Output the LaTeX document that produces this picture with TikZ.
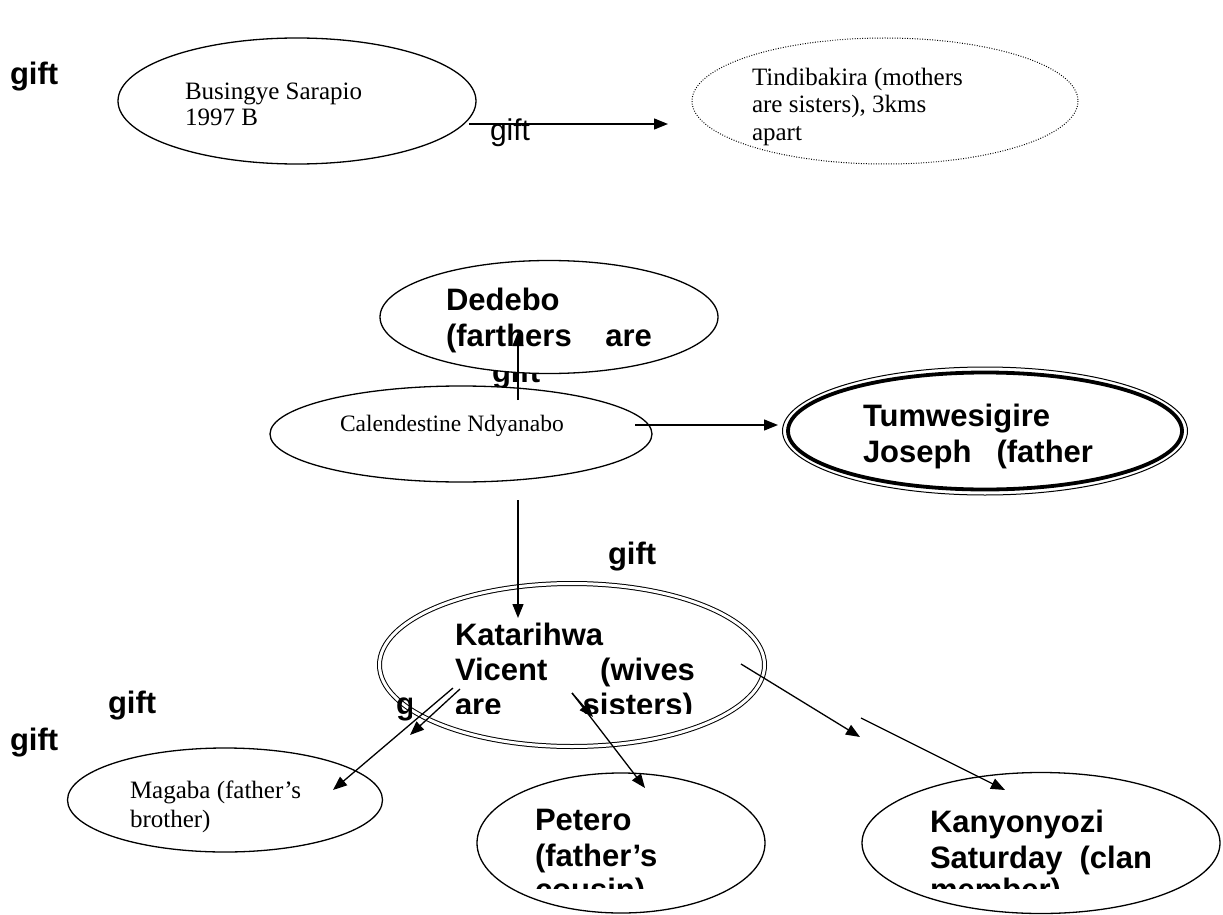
\documentclass[tikz,border=0pt]{standalone}
\usepackage{fontspec}
\setmainfont{Liberation Serif}
\newfontfamily\arialfont{Liberation Sans}
\usetikzlibrary{shapes.geometric,arrows.meta}

\begin{document}
\begin{tikzpicture}[x=1pt,y=-1pt,
  every node/.style={inner sep=0pt, outer sep=0pt},
  person/.style={ellipse, draw, fill=white, line width=1.3pt},
  serif/.style={anchor=base west, font=\fontsize{25}{29}\selectfont},
  bold/.style={anchor=base west, font=\arialfont\bfseries\fontsize{31}{36}\selectfont},
  giftbold/.style={anchor=base west, font=\arialfont\bfseries\fontsize{31}{36}\selectfont},
  giftplain/.style={anchor=base west, font=\arialfont\fontsize{30}{36}\selectfont},
  link/.style={line width=1.3pt, -{Triangle[length=14pt,width=11pt]}},
]
\useasboundingbox[fill=white] (0,0) rectangle (1223,915);

% label partly hidden behind the Dedebo ellipse
\node[giftbold] (giftD) at (492,382) {gift};

% people
\node[person, minimum width=358, minimum height=126] (bus) at (297,101) {};
\node[person, draw=none, minimum width=386, minimum height=126] (tin) at (885,101) {};
\draw[line width=1pt, dash pattern=on 0.9pt off 1.6pt] (885,101) ellipse (193 and 63);
\node[person, minimum width=338, minimum height=113] (ded) at (549,317) {};
\node[person, minimum width=382, minimum height=96] (cal) at (461,434) {};
\node[person, line width=1pt, minimum width=405, minimum height=128] (tumo) at (985,431) {};
\node[ellipse, draw, line width=3.8pt, minimum width=394, minimum height=117] (tumi) at (985,431) {};
\node[ellipse, draw, fill=white, line width=1pt, double=white, double distance=3pt,
      minimum width=385, minimum height=163] (kat) at (572,665) {};
\node[person, minimum width=315, minimum height=104] (mag) at (225,800) {};
\node[person, minimum width=288, minimum height=140] (pet) at (621,843) {};
\node[person, minimum width=358, minimum height=141] (kan) at (1041,843) {};

% label showing only its first letter beside the Katarihwa text box
\begin{scope}
  \clip (388,690) rectangle (411,720);
  \node[giftbold] (giftK) at (396,714) {gift};
\end{scope}

% texts
\node[serif] (bus1) at (185,100) {Busingye Sarapio};
\node[serif] (bus2) at (185,126) {1997 B};
\node[serif] (tin1) at (752,86) {Tindibakira (mothers};
\node[serif] (tin2) at (752,113) {are sisters), 3kms};
\node[serif] (tin3) at (752,140) {apart};
\node[serif, font=\fontsize{23.5}{27}\selectfont] (cal1) at (340,431) {Calendestine Ndyanabo};
\node[serif] (mag1) at (130,798) {Magaba (father’s};
\node[serif] (mag2) at (130,827) {brother)};
\node[bold] (ded1) at (446,310) {Dedebo};
\node[bold] (ded2) at (446,346) {\makebox[206pt][s]{(farthers are}};
\node[bold] (tum1) at (863,426) {Tumwesigire};
\node[bold] (tum2) at (863,462) {\makebox[230pt][s]{Joseph (father}};
\node[bold] (kat1) at (455,645) {Katarihwa};
\node[bold] (kat2) at (455,680) {\makebox[240pt][s]{Vicent (wives}};
\begin{scope}
  \clip (440,690) rectangle (720,713);
  \node[bold] (kat3) at (455,715) {\makebox[238pt][s]{are sisters)}};
\end{scope}
\node[bold] (pet1) at (535,830) {Petero};
\node[bold] (pet2) at (535,866) {(father’s};
\begin{scope}
  \clip (520,870) rectangle (760,888);
  \node[bold] (pet3) at (535,900) {cousin)};
\end{scope}
\node[bold] (kan1) at (930,832) {Kanyonyozi};
\node[bold] (kan2) at (930,868) {\makebox[222pt][s]{Saturday (clan}};
\begin{scope}
  \clip (920,872) rectangle (1200,888);
  \node[bold] (kan3) at (930,900) {member)};
\end{scope}

% connector end points
\coordinate (bs) at (469,124);  \coordinate (be) at (668,124);
\coordinate (u1) at (518,400);  \coordinate (u2) at (518,332);
\coordinate (r1) at (635,425);  \coordinate (r2) at (778,425);
\coordinate (d1) at (518,500);  \coordinate (d2) at (518,618);
\coordinate (m1) at (453,688);  \coordinate (m2) at (333,790);
\coordinate (m0) at (460,689);  \coordinate (m3) at (410,735);
\coordinate (p1) at (572,693);  \coordinate (p2) at (645,788);
\coordinate (p3) at (593,717);
\coordinate (k1) at (741,664);  \coordinate (k2) at (860,737);
\coordinate (k3) at (861,718);  \coordinate (k4) at (1005,790);

% connectors
\draw[link] (bs) -- (be);
\draw[link] (u1) -- (u2);
\draw[link] (r1) -- (r2);
\draw[link] (d1) -- (d2);
\draw[link] (m1) -- (m2);
\draw[link] (m0) -- (m3);
\draw[link] (p1) -- (p2);
\draw[link] (p1) -- (p3);
\draw[link] (k1) -- (k2);
\draw[link] (k3) -- (k4);

% gift labels
\node[giftbold] (gift1) at (10,85) {gift};
\node[giftplain] (gift2) at (490,140) {gift};
\node[giftbold] (gift3) at (608,564) {gift};
\node[giftbold] (gift4) at (108,713) {gift};
\node[giftbold] (gift5) at (10,750) {gift};
\end{tikzpicture}
\end{document}
